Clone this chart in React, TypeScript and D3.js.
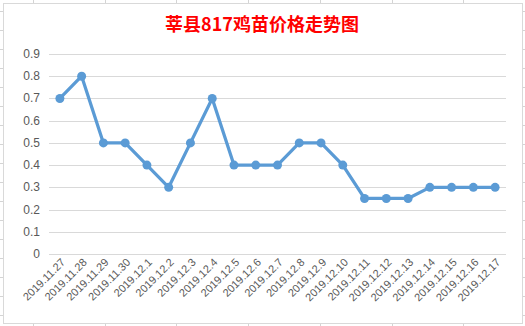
import React from "react";
import * as d3 from "d3";

const dates = [
  "2019.11.27", "2019.11.28", "2019.11.29", "2019.11.30",
  "2019.12.1", "2019.12.2", "2019.12.3", "2019.12.4", "2019.12.5",
  "2019.12.6", "2019.12.7", "2019.12.8", "2019.12.9", "2019.12.10",
  "2019.12.11", "2019.12.12", "2019.12.13", "2019.12.14", "2019.12.15",
  "2019.12.16", "2019.12.17",
];
const prices = [0.7, 0.8, 0.5, 0.5, 0.4, 0.3, 0.5, 0.7, 0.4, 0.4, 0.4, 0.5, 0.5, 0.4, 0.25, 0.25, 0.25, 0.3, 0.3, 0.3, 0.3];
const yTicks = [0, 0.1, 0.2, 0.3, 0.4, 0.5, 0.6, 0.7, 0.8, 0.9];
const title = "莘县817鸡苗价格走势图";

const W = 525, H = 326;
const box = { l: 3, t: 3, r: 522, b: 323 };
const plot = { l: 49, r: 506, t: 54, b: 254 };

export default function App() {
  const x = d3.scaleBand<string>().domain(dates).range([plot.l, plot.r]);
  const y = d3.scaleLinear().domain([0, 0.9]).range([plot.b, plot.t]);
  const cx = (d: string) => (x(d) ?? 0) + x.bandwidth() / 2;
  const line = d3.line<number>().x((_, i) => cx(dates[i])).y((v) => y(v));

  const sheetCols = d3.range(33, W, 71.7);
  const sheetRows = d3.range(11, H, 19);
  const axisFont = "'Liberation Sans', Arial, sans-serif";

  return (
    <svg width={W} height={H} style={{ position: "absolute", left: 0, top: 0, background: "#fff" }}>
      {sheetCols.map((c, i) => (
        <g key={"c" + i} stroke="#d4d4d4" strokeWidth={1}>
          <line x1={Math.round(c) + 0.5} x2={Math.round(c) + 0.5} y1={0} y2={box.t} />
          <line x1={Math.round(c) + 0.5} x2={Math.round(c) + 0.5} y1={box.b} y2={H} />
        </g>
      ))}
      {sheetRows.map((r, i) => (
        <g key={"r" + i} stroke="#d4d4d4" strokeWidth={1}>
          <line x1={0} x2={box.l} y1={Math.round(r) + 0.5} y2={Math.round(r) + 0.5} />
          <line x1={box.r} x2={W} y1={Math.round(r) + 0.5} y2={Math.round(r) + 0.5} />
        </g>
      ))}
      <rect x={box.l + 0.5} y={box.t + 0.5} width={box.r - box.l} height={box.b - box.t} fill="#fff" stroke="#d9d9d9" />

      <text x={262} y={31} textAnchor="middle" fill="#ff0000" fontWeight="bold" fontSize={18}
        fontFamily="'Noto Sans CJK SC', sans-serif">{title}</text>

      {yTicks.map((t) => (
        <g key={t}>
          <line x1={plot.l} x2={plot.r} y1={Math.round(y(t)) + 0.5} y2={Math.round(y(t)) + 0.5} stroke="#d9d9d9" />
          <text x={40} y={y(t) + 4} textAnchor="end" fontSize={12} fill="#595959" fontFamily={axisFont}>
            {t === 0 ? "0" : d3.format(".1f")(t)}
          </text>
        </g>
      ))}

      {dates.map((d) => (
        <text key={d} transform={`translate(${cx(d) + 6},${plot.b + 9}) rotate(-45)`} textAnchor="end"
          fontSize={11} fill="#595959" fontFamily={axisFont}>{d}</text>
      ))}

      <path d={line(prices) ?? ""} fill="none" stroke="#5b9bd5" strokeWidth={3.25} strokeLinejoin="round" />
      {prices.map((v, i) => (
        <circle key={i} cx={cx(dates[i])} cy={y(v)} r={4.5} fill="#5b9bd5" />
      ))}
    </svg>
  );
}
